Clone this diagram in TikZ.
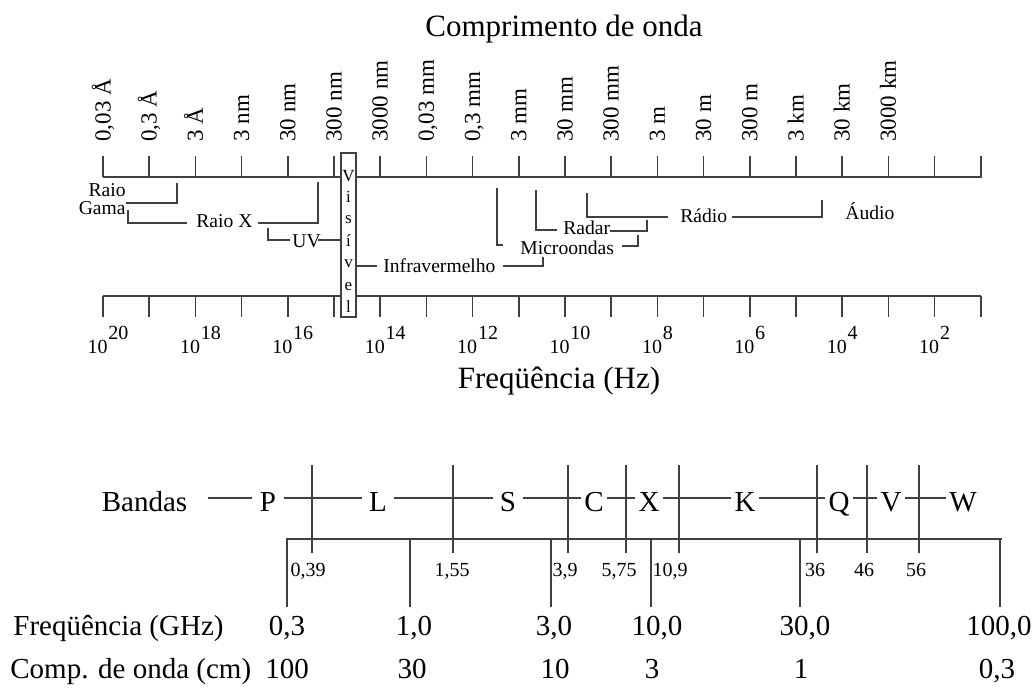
\documentclass[tikz,border=0pt]{standalone}
\usepackage{fontspec}
\setmainfont{Liberation Serif}
\begin{document}
\begin{tikzpicture}[x=0.5pt,y=-0.5pt,
  ln/.style={draw=black!75,line width=0.75pt},
  ttl/.style={inner sep=0pt,anchor=base,font=\fontsize{15.5}{18}\selectfont},
  wl/.style={rotate=90,anchor=base west,inner sep=0pt,font=\fontsize{11.5}{13}\selectfont},
  ex/.style={inner sep=0pt,font=\fontsize{10}{12}\selectfont},
  sp/.style={inner sep=0pt,anchor=base west,font=\fontsize{9.8}{12}\selectfont},
  vis/.style={inner sep=0pt,anchor=base,font=\fontsize{8.5}{10}\selectfont},
  bd/.style={text height=13.6pt,text depth=0pt,inner ysep=0pt,inner xsep=1.5pt,font=\fontsize{14.5}{17}\selectfont},
  gl/.style={inner sep=0pt,anchor=base,font=\fontsize{10}{12}\selectfont},
  big/.style={inner sep=0pt,anchor=base,font=\fontsize{14.5}{17}\selectfont},
]
\useasboundingbox (0,0) rectangle (1034,689);

% ---------- titles
\node[ttl] (title) at (564,37) {Comprimento de onda};
\node[ttl] (ftitle) at (559,389) {Freqüência (Hz)};

% ---------- wavelength axis
\draw[ln] (103,177) -- (982,177);
\foreach \i in {0,...,19} \draw[ln] ({103+46.2*\i},156) -- ({103+46.2*\i},177);
\foreach \i/\t in {0/{0,03 Å},1/{0,3 Å},2/{3 Å},3/{3 nm},4/{30 nm},5/{300 nm},6/{3000 nm},7/{0,03 mm},8/{0,3 mm},9/{3 mm},10/{30 mm},11/{300 mm},12/{3 m},13/{30 m},14/{300 m},15/{3 km},16/{30 km},17/{3000 km}}
  \node[wl] (wl\i) at ({110.5+46.2*\i},142) {\t};

% ---------- frequency axis
\draw[ln] (103,296) -- (981,296);
\foreach \i in {0,...,19} \draw[ln] ({103+46.2*\i},296) -- ({103+46.2*\i},317);
\foreach \k [evaluate=\k as \e using int(20-2*\k)] in {0,...,9}{
  \node[ex,anchor=east] (fb\k) at ({108+92.4*\k},347) {10};
  \node[ex,anchor=west] (fe\k) at (fb\k.east |- 0,333) {\e};
}

% ---------- spectrum regions
\node[sp,anchor=base east] (raio) at (126,197) {Raio};
\node[sp,anchor=base east] (gama) at (126,215) {Gama};
\draw[ln] (gama.north east |- 0,203) -- (177,203) -- (177,183);

\node[sp] (raiox) at (196,228) {Raio X};
\draw[ln] (128,210) -- (128,223) -- (187,223);
\draw[ln] (258,223) -- (318,223) -- (318,182);

\node[sp] (uv) at (292,248) {UV};
\draw[ln] (268,228) -- (268,240) -- (290,240);
\draw[ln] (318,240) -- (341,240);

\node[sp] (infra) at (383,273) {Infravermelho};
\draw[ln] (356,266) -- (377,266);
\draw[ln] (503,266) -- (543,266) -- (543,257);

\node[sp] (micro) at (520,255) {Microondas};
\draw[ln] (497,188) -- (497,245) -- (503,245);
\draw[ln] (622,246) -- (638,246) -- (638,235);

\node[sp] (radar) at (563,235) {Radar};
\draw[ln] (536,190) -- (536,230) -- (557,230);
\draw[ln] (610,231) -- (647,231) -- (647,220);

\node[sp] (radio) at (680,223) {Rádio};
\draw[ln] (587,193) -- (587,217) -- (668,217);
\draw[ln] (732,217) -- (822,217) -- (822,200);

\node[sp] (audio) at (845,220) {Áudio};

% ---------- visible box
\draw[ln,fill=white] (341,153) rectangle (356,317);
\foreach \l/\y [count=\n] in {V/182,i/203,s/224,í/247,v/268,e/291,l/313}
  \node[vis] (vis\n) at (348.5,\y) {\l};

% ---------- bands
\node[bd,inner xsep=0pt] (bandas) at (144.5,498) {Bandas};
\node[bd,inner xsep=4pt] (P) at (268,498) {P};
\node[bd,inner xsep=3.5pt] (L) at (378,498) {L};
\node[bd,inner xsep=3.5pt] (S) at (508,498) {S};
\node[bd] (C) at (594,498) {C};
\node[bd] (X) at (649,498) {X};
\node[bd] (K) at (745,498) {K};
\node[bd] (Q) at (839,498) {Q};
\node[bd] (V) at (891,498) {V};
\node[bd] (W) at (963,498) {W};
\draw[ln] ([xshift=10pt]bandas.east) -- (P);
\draw[ln] (P) -- (L) (L) -- (S) (S) -- (C) (C) -- (X) (X) -- (K) (K) -- (Q) (Q) -- (V) (V) -- (W);

\foreach \x/\lx/\t [count=\n] in {312/308/{0,39},453/452/{1,55},568/565/{3,9},626/619/{5,75},679/670/{10,9},817/815/{36},867/864/{46},919/916/{56}}{
  \draw[ln] (\x,465) -- (\x,553);
  \node[gl] (bl\n) at (\lx,577) {\t};
}

% ---------- GHz scale
\draw[ln] (287,607) -- (287,539) -- (1002,539);
\foreach \x in {410,551,651,800,1000} \draw[ln] (\x,539) -- (\x,607);

\node[big,anchor=base west] (fghz) at (13,635) {Freqüência (GHz)};
\node[big,anchor=base west] (comp) at (10,678) {Comp. de onda (cm)};
\foreach \x/\t [count=\n] in {287/{0,3},414/{1,0},554/{3,0},657/{10,0},805/{30,0},999/{100,0}}
  \node[big] (fv\n) at (\x,635) {\t};
\foreach \x/\t [count=\n] in {287/{100},412/{30},555/{10},652/{3},801/{1},997/{0,3}}
  \node[big] (cv\n) at (\x,678) {\t};
\end{tikzpicture}
\end{document}
